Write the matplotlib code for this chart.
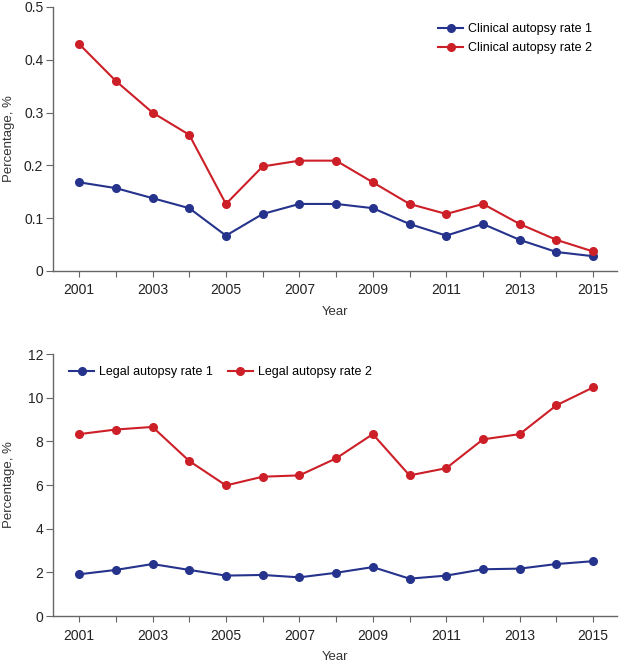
import matplotlib
matplotlib.use("Agg")
import matplotlib.pyplot as plt

years = list(range(2001, 2016))

clinical_rate_1 = [0.168, 0.157, 0.138, 0.119, 0.067, 0.108, 0.127, 0.127,
                   0.119, 0.089, 0.067, 0.089, 0.059, 0.036, 0.028]
clinical_rate_2 = [0.43, 0.36, 0.30, 0.258, 0.127, 0.198, 0.209, 0.209,
                   0.168, 0.127, 0.108, 0.127, 0.089, 0.059, 0.037]

legal_rate_1 = [1.91, 2.11, 2.38, 2.11, 1.85, 1.88, 1.77, 1.98,
                2.24, 1.71, 1.85, 2.14, 2.17, 2.38, 2.51]
legal_rate_2 = [8.33, 8.54, 8.66, 7.10, 5.98, 6.38, 6.44, 7.22,
                8.33, 6.44, 6.77, 8.09, 8.33, 9.65, 10.47]

BLUE = "#25338c"
RED = "#cc1f27"

plt.rcParams['font.family'] = ['Liberation Sans', 'DejaVu Sans']

W, H = 619, 663
fig = plt.figure(figsize=(W / 100, H / 100), dpi=100)
ax1 = fig.add_axes([53 / W, 1 - 271 / H, (617 - 53) / W, (271 - 7) / H])
ax2 = fig.add_axes([53 / W, 1 - 616 / H, (617 - 53) / W, (616 - 354) / H])


def style(ax):
    for s in ['top', 'right']:
        ax.spines[s].set_visible(False)
    for s in ['left', 'bottom']:
        ax.spines[s].set_color('#666666')
        ax.spines[s].set_linewidth(1.0)
    ax.set_xlim(2000.29, 2015.65)
    ax.set_xticks(years)
    ax.set_xticklabels([str(y) if (y - 2001) % 2 == 0 else '' for y in years])
    ax.tick_params(axis='both', direction='out', color='#666666',
                   labelsize=10, labelcolor='#222222')
    ax.tick_params(axis='x', length=4, pad=5)
    ax.tick_params(axis='y', length=5, pad=2)
    ax.set_xlabel('Year', fontsize=9.5, color='#333333')
    ax.set_ylabel('Percentage, %', fontsize=9.5, color='#333333')
    ax.yaxis.set_label_coords(-0.068, 0.5)


def draw(ax, y1, y2, l1, l2):
    ax.plot(years, y1, color=BLUE, marker='o', markersize=5.5, linewidth=1.5, label=l1, clip_on=False)
    ax.plot(years, y2, color=RED, marker='o', markersize=5.5, linewidth=1.5, label=l2, clip_on=False)


draw(ax1, clinical_rate_1, clinical_rate_2, 'Clinical autopsy rate 1', 'Clinical autopsy rate 2')
style(ax1)
ax1.set_ylim(0, 0.5)
ax1.set_yticks([0, 0.1, 0.2, 0.3, 0.4, 0.5])
ax1.set_yticklabels(['0', '0.1', '0.2', '0.3', '0.4', '0.5'])
ax1.xaxis.set_label_coords(0.5, (271 - 306) / 264)
ax1.legend(loc='upper left', bbox_to_anchor=(438 / W, 1 - 23 / H), bbox_transform=fig.transFigure,
           frameon=False, fontsize=9, handlelength=2.0, handletextpad=0.4,
           labelspacing=0.55, borderpad=0, borderaxespad=0)

draw(ax2, legal_rate_1, legal_rate_2, 'Legal autopsy rate 1', 'Legal autopsy rate 2')
style(ax2)
ax2.set_ylim(0, 12)
ax2.set_yticks([0, 2, 4, 6, 8, 10, 12])
ax2.xaxis.set_label_coords(0.5, (616 - 651) / 262)
ax2.legend(loc='upper left', bbox_to_anchor=(69 / W, 1 - 366 / H), bbox_transform=fig.transFigure,
           frameon=False, fontsize=9, ncol=2, handlelength=2.0, handletextpad=0.4,
           columnspacing=1.2, borderpad=0, borderaxespad=0)

fig.savefig('out.png', dpi=100)
